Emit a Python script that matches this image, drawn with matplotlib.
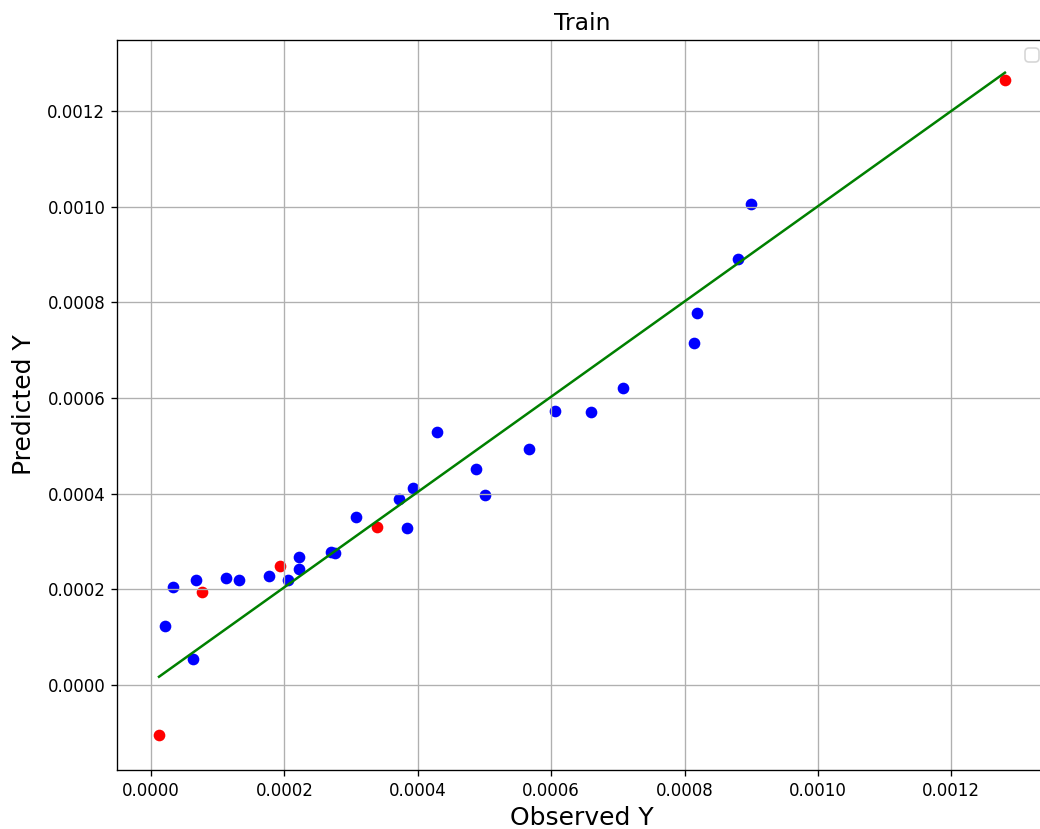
import matplotlib.pyplot as plt

# observed / predicted values
blue_obs = [2.14e-5, 3.25e-5, 6.34e-5, 6.75e-5, 1.12e-4, 1.315e-4, 1.765e-4, 2.054e-4,
            2.219e-4, 2.219e-4, 2.694e-4, 2.754e-4, 3.074e-4, 3.718e-4, 3.843e-4, 3.928e-4,
            4.283e-4, 4.873e-4, 5.008e-4, 5.663e-4, 6.065e-4, 6.597e-4, 7.072e-4, 8.146e-4,
            8.186e-4, 8.805e-4, 9.0e-4]
blue_pred = [1.233e-4, 2.054e-4, 5.43e-5, 2.188e-4, 2.242e-4, 2.188e-4, 2.278e-4, 2.188e-4,
             2.424e-4, 2.681e-4, 2.786e-4, 2.765e-4, 3.517e-4, 3.887e-4, 3.287e-4, 4.123e-4,
             5.281e-4, 4.514e-4, 3.965e-4, 4.938e-4, 5.726e-4, 5.705e-4, 6.201e-4, 7.154e-4,
             7.781e-4, 8.897e-4, 1.0059e-3]
red_obs = [1.2e-5, 7.65e-5, 1.939e-4, 3.393e-4, 1.2804e-3]
red_pred = [-1.045e-4, 1.95e-4, 2.487e-4, 3.308e-4, 1.2644e-3]
fit_x = [1.2e-5, 1.2804e-3]
fit_y = [1.73e-5, 1.2797e-3]

fig = plt.figure(figsize=(1040 / 120, 829 / 120), dpi=120)
ax = fig.add_axes([117 / 1040, 59 / 829, 930 / 1040, 730 / 829])

ax.scatter(blue_obs, blue_pred, color='blue')
ax.scatter(red_obs, red_pred, color='red')
ax.plot(fit_x, fit_y, color='green', linewidth=1.5)

ax.set_xlim(-5.1e-5, 1.3435e-3)
ax.set_ylim(-1.776e-4, 1.348e-3)
ax.set_title('Train', fontsize=14)
ax.set_xlabel('Observed Y', fontsize=15)
ax.set_ylabel('Predicted Y', fontsize=15, labelpad=7)
ax.grid(True)
ax.legend()

fig.savefig('out.png', dpi=120)
